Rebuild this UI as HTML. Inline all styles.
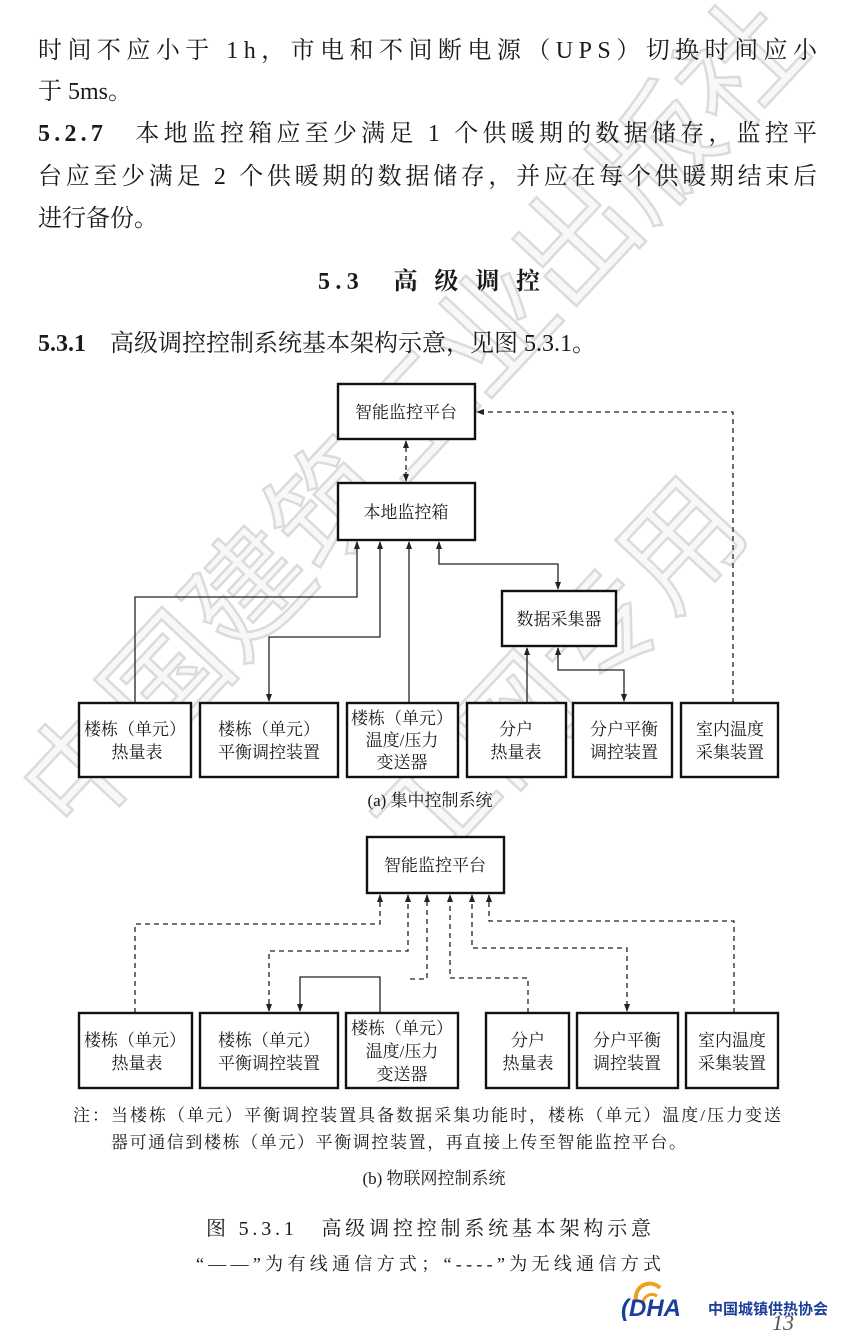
<!DOCTYPE html>
<html><head><meta charset="utf-8"><style>
html,body{margin:0;padding:0;background:#fff;}
svg{display:block;}
text{font-family:"Liberation Serif","Noto Serif CJK SC",serif;fill:#1a1a1a;}
.b{font-family:"Liberation Serif","Noto Serif CJK SC",serif;font-weight:bold;}
.wm{font-family:"Noto Sans CJK SC",sans-serif;font-size:120px;fill:#f4f4f4;stroke:#c4c4c4;stroke-width:2.5;}
.bx{fill:#fff;stroke:#111;stroke-width:2.4;}
.s{fill:none;stroke:#222;stroke-width:1.3;}
.d{fill:none;stroke:#222;stroke-width:1.3;stroke-dasharray:5,4;}
.lb{font-size:17px;text-anchor:middle;}
</style></head><body>
<svg width="851" height="1340" viewBox="0 0 851 1340" xmlns="http://www.w3.org/2000/svg">
<defs>
<marker id="a" markerWidth="8" markerHeight="10" refX="7" refY="4" orient="auto-start-reverse" markerUnits="userSpaceOnUse">
<path d="M0,1 L8,4 L0,7 Z" fill="#222"/></marker>
</defs>

<!-- watermark -->
<g opacity="0.6">
<text class="wm" transform="translate(75,840) rotate(-47)">中国建筑工业出版社</text>
<text class="wm" transform="translate(425,880) rotate(-47)">工网专用</text>
</g>

<!-- body text -->
<text x="38" y="58" font-size="24" textLength="779" lengthAdjust="spacing">时间不应小于 1h，市电和不间断电源（UPS）切换时间应小</text>
<text x="38" y="99" font-size="24">于 5ms。</text>
<text x="38" y="141" font-size="24" textLength="779" lengthAdjust="spacing"><tspan class="b">5.2.7</tspan>　本地监控箱应至少满足 1 个供暖期的数据储存，监控平</text>
<text x="38" y="184" font-size="24" textLength="779" lengthAdjust="spacing">台应至少满足 2 个供暖期的数据储存，并应在每个供暖期结束后</text>
<text x="38" y="226" font-size="24">进行备份。</text>
<text x="318" y="289" font-size="24" class="b" textLength="222" lengthAdjust="spacing">5.3　高 级 调 控</text>
<text x="38" y="351" font-size="24"><tspan class="b">5.3.1</tspan>　高级调控控制系统基本架构示意，见图 5.3.1。</text>

<!-- Diagram (a) -->
<rect class="bx" x="338" y="384" width="137" height="55"/>
<text class="lb" x="406" y="418" font-size="18">智能监控平台</text>
<rect class="bx" x="338" y="483" width="137" height="57"/>
<text class="lb" x="406" y="518" font-size="18">本地监控箱</text>
<rect class="bx" x="502" y="591" width="114" height="55"/>
<text class="lb" x="559" y="625" font-size="18">数据采集器</text>

<line class="s" x1="406" y1="441" x2="406" y2="481" marker-start="url(#a)" marker-end="url(#a)"/>
<line x1="406" y1="452" x2="406" y2="472" style="stroke:#fff;stroke-width:2;stroke-dasharray:4,5"/>
<polyline class="d" points="733,703 733,412 477,412" marker-end="url(#a)"/>

<polyline class="s" points="135,703 135,597 357,597 357,542" marker-end="url(#a)"/>
<polyline class="s" points="380,542 380,637 269,637 269,701" marker-start="url(#a)" marker-end="url(#a)"/>
<polyline class="s" points="409,703 409,542" marker-end="url(#a)"/>
<polyline class="s" points="439,542 439,564 558,564 558,589" marker-start="url(#a)" marker-end="url(#a)"/>
<polyline class="s" points="527,703 527,648" marker-end="url(#a)"/>
<polyline class="s" points="558,648 558,670 624,670 624,701" marker-start="url(#a)" marker-end="url(#a)"/>

<rect class="bx" x="79" y="703" width="112" height="74"/>
<text class="lb" x="135" y="735">楼栋（单元）</text><text class="lb" x="137" y="758">热量表</text>
<rect class="bx" x="200" y="703" width="138" height="74"/>
<text class="lb" x="269" y="735">楼栋（单元）</text><text class="lb" x="269" y="758">平衡调控装置</text>
<rect class="bx" x="347" y="703" width="111" height="74"/>
<text class="lb" x="402" y="724">楼栋（单元）</text><text class="lb" x="402" y="746">温度/压力</text><text class="lb" x="402" y="768">变送器</text>
<rect class="bx" x="467" y="703" width="99" height="74"/>
<text class="lb" x="516" y="735">分户</text><text class="lb" x="516" y="758">热量表</text>
<rect class="bx" x="573" y="703" width="99" height="74"/>
<text class="lb" x="624" y="735">分户平衡</text><text class="lb" x="624" y="758">调控装置</text>
<rect class="bx" x="681" y="703" width="97" height="74"/>
<text class="lb" x="730" y="735">室内温度</text><text class="lb" x="730" y="758">采集装置</text>
<text class="lb" x="430" y="806" font-size="15">(a) 集中控制系统</text>

<!-- Diagram (b) -->
<rect class="bx" x="367" y="837" width="137" height="56"/>
<text class="lb" x="435" y="871" font-size="18">智能监控平台</text>

<polyline class="d" points="135,1013 135,924 380,924 380,895" marker-end="url(#a)"/>
<polyline class="d" points="408,895 408,951 269,951 269,1011" marker-start="url(#a)" marker-end="url(#a)"/>
<polyline class="d" points="410,979 427,979 427,895" marker-end="url(#a)"/>
<polyline class="d" points="528,1013 528,978 450,978 450,895" marker-end="url(#a)"/>
<polyline class="d" points="472,895 472,948 627,948 627,1011" marker-start="url(#a)" marker-end="url(#a)"/>
<polyline class="d" points="734,1013 734,921 489,921 489,895" marker-end="url(#a)"/>
<polyline class="s" points="380,1013 380,977 300,977 300,1011" marker-end="url(#a)"/>

<rect class="bx" x="79" y="1013" width="113" height="75"/>
<text class="lb" x="135" y="1046">楼栋（单元）</text><text class="lb" x="137" y="1069">热量表</text>
<rect class="bx" x="200" y="1013" width="138" height="75"/>
<text class="lb" x="269" y="1046">楼栋（单元）</text><text class="lb" x="269" y="1069">平衡调控装置</text>
<rect class="bx" x="346" y="1013" width="112" height="75"/>
<text class="lb" x="402" y="1034">楼栋（单元）</text><text class="lb" x="402" y="1057">温度/压力</text><text class="lb" x="402" y="1080">变送器</text>
<rect class="bx" x="486" y="1013" width="83" height="75"/>
<text class="lb" x="528" y="1046">分户</text><text class="lb" x="528" y="1069">热量表</text>
<rect class="bx" x="577" y="1013" width="101" height="75"/>
<text class="lb" x="627" y="1046">分户平衡</text><text class="lb" x="627" y="1069">调控装置</text>
<rect class="bx" x="686" y="1013" width="92" height="75"/>
<text class="lb" x="732" y="1046">室内温度</text><text class="lb" x="732" y="1069">采集装置</text>

<text x="73" y="1121" font-size="17" textLength="708" lengthAdjust="spacing">注：当楼栋（单元）平衡调控装置具备数据采集功能时，楼栋（单元）温度/压力变送</text>
<text x="111" y="1148" font-size="17" textLength="575" lengthAdjust="spacing">器可通信到楼栋（单元）平衡调控装置，再直接上传至智能监控平台。</text>
<text class="lb" x="434" y="1184" font-size="15">(b) 物联网控制系统</text>
<text x="206" y="1235" font-size="20" textLength="445" lengthAdjust="spacing">图 5.3.1　高级调控控制系统基本架构示意</text>
<text x="196" y="1270" font-size="18" textLength="465" lengthAdjust="spacing">“——”为有线通信方式；“----”为无线通信方式</text>

<!-- logo -->
<path d="M636,1300 A14,14 0 0 1 660,1288" stroke="#f0a020" stroke-width="4" fill="none"/>
<path d="M643,1303 A9,9 0 0 1 657,1296" stroke="#f0a020" stroke-width="3" fill="none"/>
<text x="621" y="1316" font-size="24" style="fill:#1a3e9a;font-family:'Liberation Sans',sans-serif;font-weight:bold;font-style:italic">(DHA</text>
<text x="708" y="1314" font-size="15" style="fill:#1a3e9a;font-family:'Liberation Sans','Noto Sans CJK SC',sans-serif;font-weight:bold">中国城镇供热协会</text>
<text x="772" y="1330" font-size="22" style="fill:#555;font-style:italic">13</text>
</svg>
</body></html>
